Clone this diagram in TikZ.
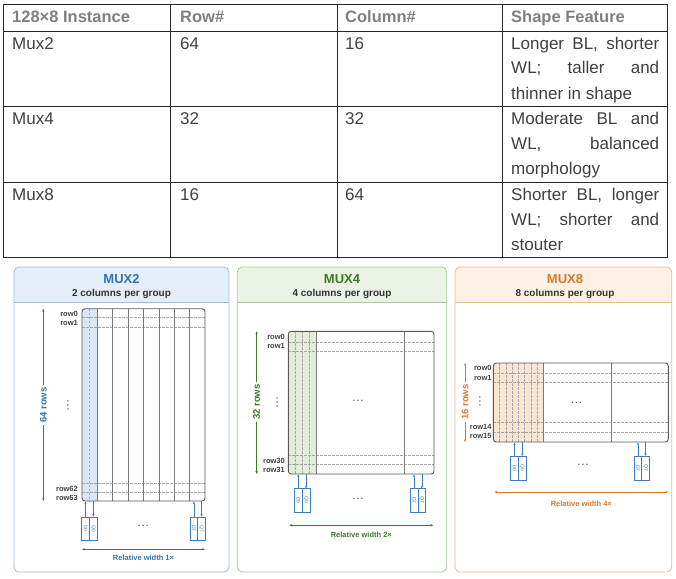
\documentclass[tikz,border=0pt]{standalone}
\usepackage{fontspec}
\setmainfont{Liberation Sans}
\usetikzlibrary{arrows.meta}
\definecolor{tblhead}{HTML}{7F7F7F}
\definecolor{tbltext}{HTML}{404040}
\definecolor{tblline}{HTML}{262626}
\definecolor{bluebd}{HTML}{9DBAD8}
\definecolor{bluehd}{HTML}{E4EEF9}
\definecolor{bluett}{HTML}{2E74B5}
\definecolor{bluecol}{HTML}{D9E7F6}
\definecolor{greenbd}{HTML}{A8CC98}
\definecolor{greenhd}{HTML}{EAF3E4}
\definecolor{greentt}{HTML}{3B7A2A}
\definecolor{greencol}{HTML}{E1EED7}
\definecolor{orbd}{HTML}{E9BB8E}
\definecolor{orhd}{HTML}{FDF1E6}
\definecolor{ortt}{HTML}{D9782D}
\definecolor{orcol}{HTML}{FBE5D2}
\definecolor{dqc}{HTML}{3D7CC0}
\definecolor{arrbd}{HTML}{595959}
\definecolor{grpline}{HTML}{7A7A7A}
\definecolor{dashc}{HTML}{A6A6A6}
\definecolor{subt}{HTML}{333333}
\begin{document}
\begin{tikzpicture}[x=1pt,y=-1pt,
  cell/.style={anchor=base west, inner sep=0pt, font=\fontsize{17}{20}\selectfont, text=tbltext},
  hcell/.style={anchor=base west, inner sep=0pt, font=\fontsize{16.5}{20}\selectfont\bfseries, text=tblhead},
  tline/.style={draw=tblline, line width=0.8pt},
  ptitle/.style={font=\fontsize{13}{15}\selectfont\bfseries, inner sep=0pt},
  psub/.style={font=\fontsize{10}{12}\selectfont\bfseries, text=subt, inner sep=0pt},
  rowlab/.style={anchor=east, inner sep=0pt, font=\fontsize{7.5}{9}\selectfont\bfseries, text=tbltext},
  dots/.style={inner sep=0pt, font=\fontsize{8}{9}\selectfont\bfseries, text=tbltext},
  hlab/.style={rotate=90, fill=white, inner sep=2pt, font=\fontsize{9.5}{11}\selectfont\bfseries},
  wlab/.style={inner sep=0pt, font=\fontsize{7.5}{9}\selectfont\bfseries},
  dimarr/.style={line width=0.6pt, {Stealth[length=3pt,width=2.4pt]}-{Stealth[length=3pt,width=2.4pt]}},
  arrbox/.style={draw=arrbd, line width=0.9pt, rounded corners=3pt, inner sep=0pt},
  grp/.style={draw=grpline, line width=0.8pt},
  dsh/.style={draw=dashc, line width=0.5pt, dash pattern=on 2.5pt off 1.5pt},
  dqbox/.style={draw=dqc, fill=white, line width=0.6pt, minimum width=7.8pt, inner sep=0pt,
     font=\fontsize{5}{6}\selectfont, text=dqc},
  dqarr/.style={draw=dqc, line width=0.6pt, -{Stealth[length=2.5pt,width=2.2pt]}},
  panel/.style={line width=0.8pt, rounded corners=5pt}
]
\useasboundingbox (0,0) rectangle (676,578);

% ================= TABLE =================
\draw[tline] (3,4) rectangle (667,257);
\draw[tline] (3,31) -- (667,31);
\draw[tline] (3,106.5) -- (667,106.5);
\draw[tline] (3,182) -- (667,182);
\draw[tline] (170,4) -- (170,257);
\draw[tline] (337,4) -- (337,257);
\draw[tline] (502,4) -- (502,257);

\node[hcell] (h1) at (12,23) {128×8 Instance};
\node[hcell] (h2) at (180,23) {Row\#};
\node[hcell] (h3) at (345,23) {Column\#};
\node[hcell] (h4) at (511,23) {Shape Feature};

\node[cell] (c11) at (12,49) {Mux2};
\node[cell] (c12) at (180,49) {64};
\node[cell] (c13) at (345,49) {16};
\node[cell] (c14a) at (511,49) {\makebox[148pt][s]{Longer BL, shorter}};
\node[cell] (c14b) at (511,74) {\makebox[148pt][s]{WL; taller and}};
\node[cell] (c14c) at (511,99) {thinner in shape};

\node[cell] (c21) at (12,124.5) {Mux4};
\node[cell] (c22) at (180,124.5) {32};
\node[cell] (c23) at (345,124.5) {32};
\node[cell] (c24a) at (511,124.5) {\makebox[148pt][s]{Moderate BL and}};
\node[cell] (c24b) at (511,149.5) {\makebox[148pt][s]{WL, balanced}};
\node[cell] (c24c) at (511,174.5) {morphology};

\node[cell] (c31) at (12,200) {Mux8};
\node[cell] (c32) at (180,200) {16};
\node[cell] (c33) at (345,200) {64};
\node[cell] (c34a) at (511,200) {\makebox[148pt][s]{Shorter BL, longer}};
\node[cell] (c34b) at (511,225) {\makebox[148pt][s]{WL; shorter and}};
\node[cell] (c34c) at (511,250) {stouter};

% ================= PANEL MUX2 =================
\begin{scope}
  \clip[rounded corners=5pt] (14,267) rectangle (229,572);
  \fill[bluehd] (14,267) rectangle (229,302.7);
\end{scope}
\draw[panel, draw=bluebd] (14,267) rectangle (229,572);
\draw[draw=bluebd, line width=0.8pt] (14,302.7) -- (229,302.7);
\node[ptitle, text=bluett] (p1t) at (121.5,279) {MUX2};
\node[psub] (p1s) at (121.5,294) {2 columns per group};

\begin{scope}
  \clip[rounded corners=3pt] (82,308.7) rectangle (205,501);
  \fill[bluecol] (82,308.7) rectangle (97.4,501);
\end{scope}
\draw[dsh] (89.7,308.7) -- (89.7,501);
\foreach \yy in {317.7,327,483,492} \draw[dsh] (82,\yy) -- (205,\yy);
\foreach \xx in {97.4,112.8,128.2,143.6,159,174.4,189.8} \draw[grp] (\xx,308.7) -- (\xx,501);
\node[arrbox, minimum width=123pt, minimum height=192.3pt] (a1) at (143.5,404.85) {};

\node[rowlab] (l10) at (78,314.3) {row0};
\node[rowlab] (l11) at (78,323.3) {row1};
\node[rowlab] (l162) at (78,488.7) {row62};
\node[rowlab] (l163) at (78,497.7) {row63};
\node[dots, rotate=90] (v1) at (69,405) {·\,·\,·};

\coordinate (h1t) at (43.3,308.7);
\coordinate (h1b) at (43.3,501);
\draw[dimarr, draw=bluett, fill=bluett] (h1t) -- (h1b);
\node[hlab, text=bluett] (hl1) at (43.3,405) {64 rows};

\node[dqbox, minimum height=23pt] (d01) at (85.5,528.5) {\rotatebox{-90}{D0}};
\node[dqbox, minimum height=23pt] (q01) at (93.3,528.5) {\rotatebox{-90}{Q0}};
\node[dqbox, minimum height=23pt] (d71) at (193.8,528.5) {\rotatebox{-90}{D7}};
\node[dqbox, minimum height=23pt] (q71) at (201.5,528.5) {\rotatebox{-90}{Q7}};
\draw[dqarr] (d01.north) -- (d01.north |- a1.south);
\draw[dqarr] (q01.north |- a1.south) -- (q01.north);
\draw[dqarr] (d71.north) -- (d71.north |- a1.south);
\draw[dqarr] (q71.north |- a1.south) -- (q71.north);
\node[dots] (m1) at (143.5,527) {·\,·\,·};

\coordinate (w1l) at (82,549.3);
\coordinate (w1r) at (205,549.3);
\draw[dimarr, draw=bluett, fill=bluett] (w1l) -- (w1r);
\node[wlab, text=bluett] (wl1) at (143.5,558.3) {Relative width 1×};

% ================= PANEL MUX4 =================
\begin{scope}
  \clip[rounded corners=5pt] (237.3,267) rectangle (446.7,572);
  \fill[greenhd] (237.3,267) rectangle (446.7,302.7);
\end{scope}
\draw[panel, draw=greenbd] (237.3,267) rectangle (446.7,572);
\draw[draw=greenbd, line width=0.8pt] (237.3,302.7) -- (446.7,302.7);
\node[ptitle, text=greentt] (p2t) at (342,279) {MUX4};
\node[psub] (p2s) at (342,294) {4 columns per group};

\begin{scope}
  \clip[rounded corners=3pt] (288.3,331.3) rectangle (434,474);
  \fill[greencol] (288.3,331.3) rectangle (316,474);
\end{scope}
\foreach \xx in {295.2,302.2,309.1} \draw[dsh] (\xx,331.3) -- (\xx,474);
\foreach \yy in {342,351.3,455.3,464.7} \draw[dsh] (288.3,\yy) -- (434,\yy);
\foreach \xx in {316,404} \draw[grp] (\xx,331.3) -- (\xx,474);
\node[arrbox, minimum width=145.7pt, minimum height=142.7pt] (a2) at (361.15,402.65) {};

\node[rowlab] (l20) at (285,337) {row0};
\node[rowlab] (l21) at (285,346.3) {row1};
\node[rowlab] (l230) at (285,460.7) {row30};
\node[rowlab] (l231) at (285,470.3) {row31};
\node[dots, rotate=90] (v2) at (278.3,402) {·\,·\,·};
\node[dots] (c2) at (358.3,402) {·\,·\,·};

\coordinate (h2t) at (256.7,331.3);
\coordinate (h2b) at (256.7,474);
\draw[dimarr, draw=greentt, fill=greentt] (h2t) -- (h2b);
\node[hlab, text=greentt] (hl2) at (256.7,402) {32 rows};

\node[dqbox, minimum height=23.3pt] (d02) at (298.3,500.3) {\rotatebox{-90}{D0}};
\node[dqbox, minimum height=23.3pt] (q02) at (306.1,500.3) {\rotatebox{-90}{Q0}};
\node[dqbox, minimum height=23.3pt] (d72) at (414,500.3) {\rotatebox{-90}{D7}};
\node[dqbox, minimum height=23.3pt] (q72) at (421.8,500.3) {\rotatebox{-90}{Q7}};
\draw[dqarr] (d02.north) -- (d02.north |- a2.south);
\draw[dqarr] (q02.north |- a2.south) -- (q02.north);
\draw[dqarr] (d72.north) -- (d72.north |- a2.south);
\draw[dqarr] (q72.north |- a2.south) -- (q72.north);
\node[dots] (m2) at (358.3,500.3) {·\,·\,·};

\coordinate (w2l) at (289.3,525.3);
\coordinate (w2r) at (433.3,525.3);
\draw[dimarr, draw=greentt, fill=greentt] (w2l) -- (w2r);
\node[wlab, text=greentt] (wl2) at (361.3,534.7) {Relative width 2×};

% ================= PANEL MUX8 =================
\begin{scope}
  \clip[rounded corners=5pt] (455,267) rectangle (671.7,572);
  \fill[orhd] (455,267) rectangle (671.7,302.7);
\end{scope}
\draw[panel, draw=orbd] (455,267) rectangle (671.7,572);
\draw[draw=orbd, line width=0.8pt] (455,302.7) -- (671.7,302.7);
\node[ptitle, text=ortt] (p3t) at (565,279) {MUX8};
\node[psub] (p3s) at (565,294) {8 columns per group};

\begin{scope}
  \clip[rounded corners=3pt] (493.3,363) rectangle (668.3,442);
  \fill[orcol] (493.3,363) rectangle (543.3,442);
\end{scope}
\foreach \k in {1,...,7} \draw[dsh] ({493.3+6.25*\k},363) -- ({493.3+6.25*\k},442);
\foreach \yy in {373,382.7,422,432} \draw[dsh] (493.3,\yy) -- (668.3,\yy);
\foreach \xx in {543.3,611.7} \draw[grp] (\xx,363) -- (\xx,442);
\node[arrbox, minimum width=175pt, minimum height=79pt] (a3) at (580.8,402.5) {};

\node[rowlab] (l30) at (491.7,368) {row0};
\node[rowlab] (l31) at (491.7,377.7) {row1};
\node[rowlab] (l314) at (491.7,426.7) {row14};
\node[rowlab] (l315) at (491.7,435.7) {row15};
\node[dots, rotate=90] (v3) at (481,401.3) {·\,·\,·};
\node[dots] (c3) at (576.7,403.7) {·\,·\,·};

\coordinate (h3t) at (465,363);
\coordinate (h3b) at (465,442);
\draw[dimarr, draw=ortt, fill=ortt] (h3t) -- (h3b);
\node[hlab, text=ortt] (hl3) at (465,402) {16 rows};

\node[dqbox, minimum height=24pt] (d03) at (514.5,468.3) {\rotatebox{-90}{D0}};
\node[dqbox, minimum height=24pt] (q03) at (522.2,468.3) {\rotatebox{-90}{Q0}};
\node[dqbox, minimum height=24pt] (d73) at (637.9,468.3) {\rotatebox{-90}{D7}};
\node[dqbox, minimum height=24pt] (q73) at (645.6,468.3) {\rotatebox{-90}{Q7}};
\draw[dqarr] (d03.north) -- (d03.north |- a3.south);
\draw[dqarr] (q03.north |- a3.south) -- (q03.north);
\draw[dqarr] (d73.north) -- (d73.north |- a3.south);
\draw[dqarr] (q73.north |- a3.south) -- (q73.north);
\node[dots] (m3) at (583.3,466) {·\,·\,·};

\coordinate (w3l) at (494.3,492);
\coordinate (w3r) at (668.3,492);
\draw[dimarr, draw=ortt, fill=ortt] (w3l) -- (w3r);
\node[wlab, text=ortt] (wl3) at (581.3,503.7) {Relative width 4×};
\end{tikzpicture}
\end{document}
